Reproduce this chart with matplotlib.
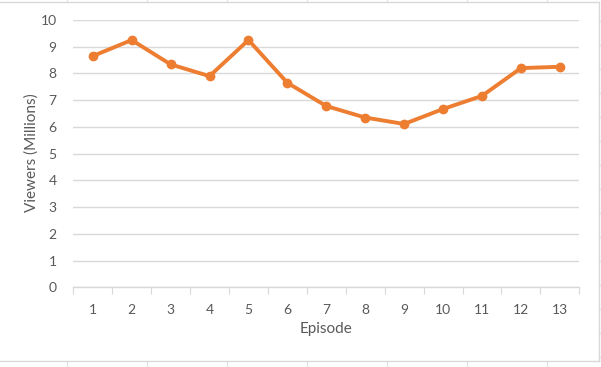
import matplotlib
matplotlib.use("Agg")
import matplotlib.pyplot as plt
from matplotlib.lines import Line2D
from matplotlib.ticker import FixedLocator, NullFormatter

episodes = [1, 2, 3, 4, 5, 6, 7, 8, 9, 10, 11, 12, 13]
viewers = [8.65, 9.25, 8.34, 7.9, 9.25, 7.65, 6.78, 6.35, 6.11, 6.67, 7.16, 8.2, 8.25]
y_ticks = [0, 1, 2, 3, 4, 5, 6, 7, 8, 9, 10]

W, H = 601, 367
plt.rcParams['font.family'] = ['Lato', 'DejaVu Sans']
fig = plt.figure(figsize=(W / 100, H / 100), dpi=100)
fig.patch.set_facecolor('white')

def px(x, y):
    return x / W, 1 - y / H

# spreadsheet cell lines outside the chart
cell = '#E1E1E1'
for xc in [66.7, 146.7, 226.7, 306.7, 386.7, 466.7, 546.7]:
    x0, y0 = px(xc, 0)
    x1, y1 = px(xc, 2)
    fig.add_artist(Line2D([x0, x1], [y0, y1], color=cell, lw=0.8))
    x0, y0 = px(xc, 361)
    x1, y1 = px(xc, 367)
    fig.add_artist(Line2D([x0, x1], [y0, y1], color=cell, lw=0.8))
yc = 20.7
while yc < 367:
    x0, y0 = px(598.5, yc)
    x1, y1 = px(601, yc)
    fig.add_artist(Line2D([x0, x1], [y0, y1], color=cell, lw=0.8))
    yc += 24

# chart border
border = '#D9D9D9'
for (a, b) in [((0, 2), (598.5, 2)), ((598.5, 2), (598.5, 361)), ((0, 361), (598.5, 361))]:
    x0, y0 = px(*a)
    x1, y1 = px(*b)
    fig.add_artist(Line2D([x0, x1], [y0, y1], color=border, lw=1.0))

left, right = 73.3, 579.3
top, bottom = 20.0, 287.3
ax = fig.add_axes([left / W, 1 - bottom / H, (right - left) / W, (bottom - top) / H])
ax.set_facecolor('white')

ax.plot(episodes, viewers, color='#ED7D31', lw=2.8, marker='o', markersize=6,
        markerfacecolor='#ED7D31', markeredgecolor='#ED7D31', solid_joinstyle='round', zorder=3)

ax.set_xlim(0.5, 13.5)
ax.set_ylim(0, 10)
ax.set_yticks(y_ticks)
ax.yaxis.grid(True, color='#D9D9D9', lw=1.0)
ax.set_axisbelow(True)

ax.xaxis.set_major_locator(FixedLocator([i + 0.5 for i in range(0, 14)]))
ax.xaxis.set_major_formatter(NullFormatter())
ax.xaxis.set_minor_locator(FixedLocator(episodes))
ax.set_xticklabels([str(e) for e in episodes], minor=True)
ax.tick_params(axis='x', which='major', length=5, width=0.8, color='#D9D9D9', direction='out')
ax.tick_params(axis='x', which='minor', length=0, pad=12, labelsize=10, labelcolor='#595959')
ax.tick_params(axis='y', length=0, pad=12, labelsize=10, labelcolor='#595959')

for s in ['top', 'right', 'left']:
    ax.spines[s].set_visible(False)
ax.spines['bottom'].set_color('#D9D9D9')
ax.spines['bottom'].set_linewidth(1.0)

fig.text(32 / W, 1 - 153 / H, 'Viewers (Millions)', rotation=90, ha='center', va='center',
         fontsize=11, color='#595959')
fig.text(326 / W, 1 - 329 / H, 'Episode', ha='center', va='center', fontsize=11, color='#595959')

fig.savefig('out.png', dpi=100, facecolor='white')
